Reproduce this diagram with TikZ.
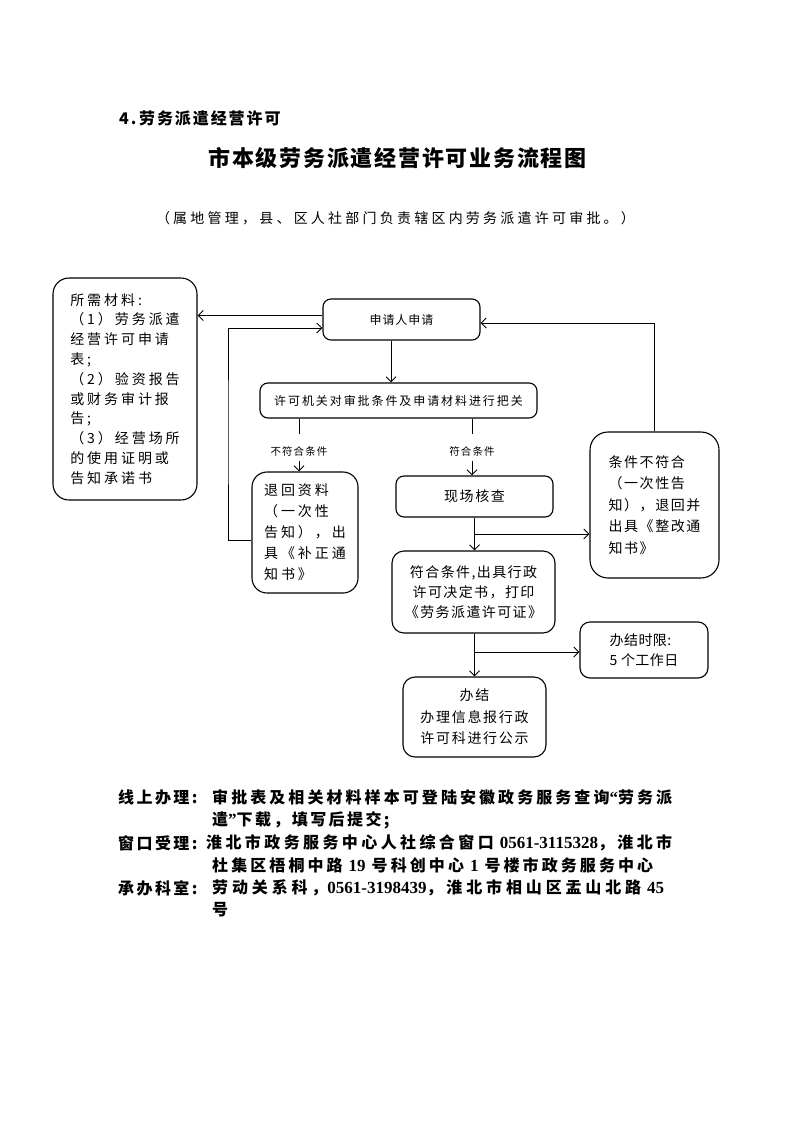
\documentclass[tikz,border=0pt]{standalone}
\usepackage{fontspec}
\usetikzlibrary{arrows.meta,calc}
\newfontfamily\cjk{Noto Sans CJK SC}
\newfontfamily\tnr{Liberation Serif}
\newcommand\lsp[1]{\addfontfeature{LetterSpace=#1}}
% inter-character stretch for justified CJK lines
\chardef\mycjk=100
\makeatletter
\def\setcls#1#2{\count@=#1\relax\loop\XeTeXcharclass\count@=\mycjk\relax\ifnum\count@<#2\relax\advance\count@ by 1\repeat}
\setcls{"4E00}{"9FFF}
\setcls{"3000}{"303F}
\setcls{"FF00}{"FFEF}
\makeatother
\XeTeXinterchartoks\mycjk\mycjk={\hskip0pt plus 1pt\relax}
\XeTeXinterchartoks 0 \mycjk={\hskip0pt plus 1pt\relax}
\XeTeXinterchartoks\mycjk 0 ={\hskip0pt plus 1pt\relax}
\newcommand\jline[2]{\hbox to #1{\XeTeXinterchartokenstate=1 #2}}
\newcommand\num[1]{{\tnr\bfseries\fontsize{17}{17}\selectfont #1}}
\newcommand\gap{\hspace*{6pt}}
\begin{document}
\begin{tikzpicture}[x=1pt,y=-1pt,
  box/.style={draw, line width=1.1pt, rounded corners=#1, inner sep=0pt},
  box/.default=10pt,
  arr/.style={-{Straight Barb[length=5pt,width=10pt]}, line width=1pt},
  ln/.style={line width=1pt},
  bt/.style={anchor=west, inner sep=0pt, font=\cjk\bfseries\fontsize{16}{16}\selectfont\lsp{15}}]
\fill[white] (0,0) rectangle (793,1122);
\useasboundingbox (0,0) rectangle (793,1122);

% headings
\node[anchor=west, inner sep=0pt, font=\cjk\bfseries\fontsize{16}{16}\selectfont\lsp{12}] (hdr) at (119,118) {4.\,劳务派遣经营许可};
\node[inner sep=0pt, font=\cjk\bfseries\fontsize{22}{22}\selectfont\lsp{8}] (title) at (397.5,158) {市本级劳务派遣经营许可业务流程图};
\node[inner sep=0pt, font=\cjk\fontsize{14}{14}\selectfont\lsp{23}] (sub) at (395.5,218) {（属地管理，县、区人社部门负责辖区内劳务派遣许可审批。）};

% boxes
\node[box=16pt, minimum width=144pt, minimum height=222pt, align=left,
  font=\cjk\fontsize{14}{19.8}\selectfont\lsp{21}] (mat) at (125,389)
  {所需材料:\\（1）劳务派遣\\经营许可申请\\表;\\（2）验资报告\\或财务审计报\\告;\\（3）经营场所\\的使用证明或\\告知承诺书};
\node[box=8pt, minimum width=157pt, minimum height=41pt,
  font=\cjk\fontsize{12}{12}\selectfont\lsp{8}] (apply) at (401.5,319.5) {申请人申请};
\node[box=8pt, minimum width=277pt, minimum height=35pt,
  font=\cjk\fontsize{12}{12}\selectfont\lsp{16}] (check) at (398.5,400.5) {许可机关对审批条件及申请材料进行把关};
\node[inner sep=0pt, font=\cjk\fontsize{10.5}{10.5}\selectfont\lsp{10}] (nolab) at (299,451) {不符合条件};
\node[inner sep=0pt, font=\cjk\fontsize{10.5}{10.5}\selectfont\lsp{10}] (yeslab) at (472,451) {符合条件};
\node[box=15pt, minimum width=106pt, minimum height=121pt, align=left,
  font=\cjk\fontsize{14}{21}\selectfont\lsp{21}] (ret) at (305,532.5)
  {退回资料\\（一次性\\告知），出\\具《补正通\\知书》};
\node[box=8pt, minimum width=157pt, minimum height=41pt,
  font=\cjk\fontsize{14}{14}\selectfont\lsp{11}] (site) at (474.5,496.5) {现场核查};
\node[box=12pt, minimum width=163pt, minimum height=82pt, align=center,
  font=\cjk\fontsize{14}{20}\selectfont\lsp{10}] (ok) at (473.5,592)
  {符合条件,出具行政\\许可决定书，打印\\《劳务派遣许可证》};
\node[box=18pt, minimum width=129pt, minimum height=146pt, align=left,
  font=\cjk\fontsize{14}{21.5}\selectfont\lsp{11}] (nf) at (654.5,505)
  {条件不符合\\（一次性告\\知），退回并\\出具《整改通\\知书》};
\node[box=10pt, minimum width=128pt, minimum height=56pt, align=left,
  font=\cjk\fontsize{14}{20}\selectfont\lsp{3}] (lim) at (644,650)
  {办结时限:\\5 个工作日};
\node[box=12pt, minimum width=143pt, minimum height=80pt, align=center,
  font=\cjk\fontsize{14}{21.5}\selectfont\lsp{12}] (done) at (474.5,717)
  {办结\\办理信息报行政\\许可科进行公示};

% connectors
\draw[arr] ($(apply.west)+(0,-4)$) -- ($(mat.east |- apply.west)+(0,-4)$);
\coordinate (loopx) at (228,430);
\draw[arr] ($(ret.west)+(0,7.5)$) -| (loopx) |- ($(apply.west)+(0,8.5)$);
\draw[arr] ($(apply.south)+(-10.5,0)$) coordinate (a1) -- (a1 |- check.north);
\draw[ln] (check.south -| nolab) -- ++(0,15);
\draw[arr] ($(nolab.south)+(0,5)$) -- (nolab |- ret.north);
\draw[ln] (check.south -| yeslab) -- ++(0,15);
\draw[arr] ($(yeslab.south)+(0,5)$) -- (yeslab |- site.north);
\draw[arr] (site.south) -- (site.south |- ok.north);
\draw[arr] ($(site.south)!0.5!(site.south |- ok.north)$) coordinate (b1) -- (b1 -| nf.west);
\draw[arr] (nf.north) |- ($(apply.east)+(0,3.5)$);
\draw[arr] ($(ok.south)+(1,0)$) coordinate (c1) -- (c1 |- done.north);
\draw[arr] ($(c1)!0.43!(c1 |- done.north)$) coordinate (b2) -- (b2 -| lim.west);

% bottom text
\node[bt] (l1) at (118,797) {线上办理:};
\node[bt] (t1) at (212,797) {\jline{460pt}{审批表及相关材料样本可登陆安徽政务服务查询\num{“}劳务派}};
\node[bt] (t2) at (212,820) {遣\num{”}下载，填写后提交;};
\node[bt] (l3) at (118,843) {窗口受理:};
\node[bt] (t3) at (206,843) {\jline{466pt}{淮北市政务服务中心人社综合窗口\gap\num{0561-3115328}，淮北市}};
\node[bt] (t4) at (212,865) {\jline{441pt}{杜集区梧桐中路\gap\num{19}\gap 号科创中心\gap\num{1}\gap 号楼市政务服务中心}};
\node[bt] (l5) at (118,888) {承办科室:};
\node[bt] (t5) at (212,888) {\jline{452pt}{劳动关系科，\num{0561-3198439}，淮北市相山区盂山北路\gap\num{45}}};
\node[bt] (t6) at (212,910) {号};
\end{tikzpicture}
\end{document}
